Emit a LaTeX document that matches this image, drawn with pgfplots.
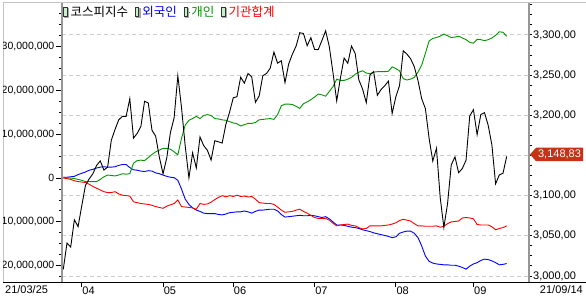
\documentclass[border=0pt]{standalone}
\usepackage{pgfplots}
\usepackage{pgfplotstable}
\pgfplotsset{compat=1.18}
\usepackage{fontspec}
\setmainfont{Liberation Sans}
\newfontfamily\krfont{Noto Sans CJK KR}
\definecolor{cgreen}{RGB}{0,150,0}
\definecolor{cgrid}{RGB}{205,205,205}
\definecolor{cframe}{RGB}{195,195,195}
\definecolor{caxis}{RGB}{150,150,150}
\definecolor{cprice}{RGB}{200,50,20}
\definecolor{cicon}{RGB}{200,240,200}
\pgfplotstableread{
i kospi foreign indiv inst
0 3008.33 0.2 0.2 0.0
1 3041.01 0.2 0.1 -0.1
2 3036.04 0.3 0.0 -0.3
3 3070.00 0.4 -0.1 -0.6
4 3061.42 0.8 -0.3 -0.8
5 3087.40 1.1 -0.5 -0.9
6 3112.80 1.4 -0.8 -1.0
7 3120.83 1.8 -0.8 -1.4
8 3127.20 2.0 -0.8 -1.9
9 3137.53 2.3 -0.8 -2.3
10 3143.26 2.5 -0.3 -2.7
11 3131.88 2.6 0.3 -3.1
12 3135.59 2.5 0.7 -3.3
13 3169.08 2.5 0.6 -3.3
14 3182.38 2.6 0.5 -3.1
15 3194.33 2.9 0.7 -3.6
16 3198.84 3.1 1.0 -3.9
17 3198.62 3.1 0.9 -4.0
18 3220.70 2.4 1.0 -4.1
19 3171.66 1.9 3.4 -5.4
20 3177.52 1.8 4.0 -5.6
21 3186.10 1.6 4.1 -5.8
22 3217.53 1.5 4.0 -5.9
23 3215.42 1.7 4.7 -6.0
24 3181.47 1.6 5.4 -6.2
25 3174.07 1.2 6.0 -6.5
26 3147.86 1.0 6.4 -6.7
27 3127.20 0.7 6.8 -6.9
28 3147.00 0.4 6.8 -6.4
29 3178.74 0.2 6.6 -6.1
30 3197.20 0.1 6.0 -5.8
31 3249.30 -0.5 5.3 -5.0
32 3209.43 -2.5 9.1 -6.5
33 3161.66 -4.8 12.1 -6.6
34 3122.11 -6.0 13.2 -6.7
35 3153.32 -6.8 13.6 -6.8
36 3134.52 -7.3 14.1 -7.1
37 3173.05 -7.6 13.6 -5.8
38 3162.28 -8.0 14.3 -6.0
39 3156.42 -8.1 14.5 -5.9
40 3144.30 -8.1 14.3 -5.5
41 3168.43 -8.1 13.6 -4.9
42 3167.00 -8.3 13.5 -4.4
43 3165.51 -8.4 13.3 -4.0
44 3188.73 -8.2 13.2 -4.3
45 3203.92 -7.9 12.9 -4.0
46 3221.87 -7.8 12.6 -4.2
47 3223.15 -7.7 12.4 -3.9
48 3247.43 -7.7 11.9 -4.2
49 3240.08 -7.5 12.2 -4.1
50 3252.12 -7.7 12.5 -4.3
51 3247.83 -8.0 12.5 -4.2
52 3216.18 -7.6 12.7 -4.8
53 3224.01 -7.3 13.3 -5.6
54 3249.32 -7.3 13.4 -5.7
55 3252.13 -7.2 13.5 -5.8
56 3258.63 -7.1 13.6 -5.8
57 3278.68 -7.1 13.4 -6.0
58 3264.96 -7.5 14.5 -6.6
59 3267.93 -8.3 16.5 -7.3
60 3240.79 -8.9 16.9 -7.8
61 3263.88 -8.8 16.9 -7.7
62 3276.19 -8.7 16.8 -7.6
63 3286.10 -8.6 16.4 -7.3
64 3302.84 -8.5 15.9 -7.1
65 3301.89 -8.6 17.0 -7.6
66 3286.68 -8.6 17.4 -8.0
67 3296.68 -8.5 17.9 -8.5
68 3282.06 -8.6 18.5 -9.0
69 3281.78 -8.8 19.2 -9.2
70 3293.21 -9.0 19.0 -9.2
71 3305.21 -8.8 18.7 -9.2
72 3285.34 -9.3 19.8 -9.6
73 3252.68 -10.0 20.9 -10.3
74 3217.95 -10.7 22.6 -10.9
75 3246.47 -10.7 22.3 -10.7
76 3271.38 -10.8 22.3 -10.6
77 3264.81 -11.0 22.6 -10.5
78 3286.22 -11.2 23.0 -10.8
79 3276.91 -11.3 23.7 -10.9
80 3244.04 -11.5 24.2 -11.3
81 3232.70 -11.8 24.5 -11.6
82 3215.81 -12.0 24.0 -11.5
83 3250.21 -12.2 23.8 -10.9
84 3254.42 -12.5 24.2 -10.9
85 3224.95 -12.7 24.3 -10.9
86 3232.07 -12.9 24.3 -10.9
87 3236.86 -13.1 24.3 -10.8
88 3242.65 -13.3 24.4 -10.7
89 3202.32 -13.6 25.4 -10.5
90 3223.04 -13.4 25.0 -10.2
91 3237.14 -12.6 24.5 -9.7
92 3280.38 -12.3 22.7 -9.4
93 3276.13 -12.1 22.4 -9.6
94 3270.36 -12.1 22.6 -9.8
95 3260.42 -12.6 23.0 -10.4
96 3243.19 -13.6 24.2 -10.9
97 3220.62 -15.5 25.8 -10.9
98 3208.38 -17.8 28.5 -11.0
99 3171.29 -19.0 31.3 -11.0
100 3143.09 -19.4 31.9 -11.0
101 3158.93 -19.6 32.1 -10.9
102 3097.83 -19.7 32.4 -11.2
103 3060.51 -19.8 32.9 -11.0
104 3090.21 -19.8 32.5 -10.4
105 3138.30 -19.9 32.1 -10.0
106 3148.29 -19.9 32.2 -9.9
107 3128.53 -20.1 32.4 -9.8
108 3133.90 -20.4 32.0 -9.1
109 3144.19 -20.8 31.6 -9.0
110 3199.27 -20.1 31.0 -9.1
111 3207.02 -19.6 30.8 -9.3
112 3175.85 -19.3 31.7 -10.6
113 3201.06 -18.8 31.6 -10.7
114 3203.33 -18.5 31.4 -10.7
115 3187.42 -18.6 31.6 -10.7
116 3162.99 -18.9 32.0 -11.1
117 3114.70 -19.3 32.6 -11.8
118 3125.76 -19.8 33.4 -11.5
119 3127.86 -19.7 33.3 -11.3
120 3148.83 -19.5 32.4 -10.9
}\data
\begin{document}
\begin{tikzpicture}[x=1pt,y=1pt]
\useasboundingbox (0pt,0pt) rectangle (586pt,303pt);
\clip (3pt,0pt) rectangle (586pt,303pt);
\pgfplotsset{
  common/.style={
    at={(62pt,21pt)}, anchor=south west,
    scale only axis, width=467pt, height=279pt,
    xmin=-0.35, xmax=126.04,
    font=\fontsize{11}{13}\selectfont,
  }
}
% frame
\draw[cframe, line width=1pt] (0pt,300pt) -- (586pt,300pt);
\draw[cframe, line width=1pt] (3pt,300pt) -- (3pt,21pt);
% grid + x ticks (right scale)
\begin{axis}[common, ymin=2992.53, ymax=3339.83,
  axis x line*=bottom, axis y line*=right, axis line style={draw=none},
  ytick={3000,3050,...,3300}, yticklabels={}, ytick style={draw=none},
  ymajorgrids, grid style={cgrid, dash pattern=on 4pt off 3pt, line width=1pt},
  xtick={5,27,46,68,90,111}, xticklabels={04,05,06,07,08,09},
  tick align=outside, major tick length=5pt,
  xtick style={black, line width=1pt},
  xticklabel style={anchor=north west, inner sep=0pt, xshift=0.5pt},
]
\end{axis}
% left scale: investor flows
\begin{axis}[common, ymin=-23.72, ymax=39.98,
  axis x line*=bottom, axis y line*=left,
  x axis line style={draw=none},
  y axis line style={draw=caxis, line width=2pt},
  xtick=\empty,
  ytick={-20,-10,0,10,20,30},
  yticklabels={{−20,000,000},{−10,000,000},{0},{10,000,000},{20,000,000},{30,000,000}},
  minor ytick={-22.5,-17.5,-15,-12.5,-7.5,-5,-2.5,2.5,5,7.5,12.5,15,17.5,22.5,25,27.5,32.5,35,37.5},
  tick align=outside,
  major tick length=6pt, minor tick length=3pt,
  tick style={black, line width=1pt},
  yticklabel style={anchor=east, inner sep=0pt, xshift=-1.5pt, font=\fontsize{10.5}{12}\selectfont},
  legend style={at={(0,1)}, anchor=north west, draw=none, fill=none,
    inner sep=0pt, outer sep=0pt, xshift=1pt, yshift=-2pt,
    font=\krfont\fontsize{12.5}{12.5}\selectfont,
    /tikz/every even column/.append style={column sep=5.5pt},
    nodes={inner sep=1pt}},
  legend columns=-1,
  legend image code/.code={
    \path (0pt,0pt) -- (6pt,0pt);
    \fill[gray!70] (1.2pt,-5.2pt) rectangle (5pt,3.6pt);
    \draw[black!80, line width=0.7pt, fill=cicon] (0pt,-4.3pt) rectangle (3.6pt,4.3pt);
  },
]
\addlegendimage{}
\addlegendentry{코스피지수}
\addplot[blue, line width=0.9pt] table[x=i, y=foreign] {\data};
\addlegendentry{\textcolor{blue}{외국인}}
\addplot[cgreen, line width=0.9pt] table[x=i, y=indiv] {\data};
\addlegendentry{\textcolor{cgreen}{개인}}
\addplot[red, line width=0.9pt] table[x=i, y=inst] {\data};
\addlegendentry{\textcolor{red}{기관합계}}
\end{axis}
% right scale: KOSPI
\begin{axis}[common, ymin=2992.53, ymax=3339.83,
  axis x line*=bottom, axis y line*=right,
  x axis line style={draw=none}, xtick=\empty,
  y axis line style={draw=caxis, line width=2pt},
  ytick={3000,3050,...,3300},
  yticklabels={{3,000,00},{3,050,00},{3,100,00},{},{3,200,00},{3,250,00},{3,300,00}},
  minor ytick={3012.5,3025,3037.5,3062.5,3075,3087.5,3112.5,3125,3137.5,3162.5,3175,3187.5,3212.5,3225,3237.5,3262.5,3275,3287.5,3312.5,3325,3337.5},
  tick align=outside, major tick length=3pt, minor tick length=3pt,
  tick style={black, line width=1pt},
  yticklabel style={anchor=west, inner sep=0pt, xshift=1pt},
]
\addplot[black, line width=0.9pt] table[x=i, y=kospi] {\data};
\coordinate (price) at (axis cs:126.04,3148.83);
\end{axis}
% bottom line
\draw[black, line width=1pt] (0pt,21pt) -- (586pt,21pt);
% end date labels
\node[anchor=north west, inner sep=0pt, font=\fontsize{11}{13}\selectfont] at (5pt,17.5pt) {21/03/25};
\node[anchor=north east, inner sep=0pt, font=\fontsize{11}{13}\selectfont] at (583pt,17.5pt) {21/09/14};
% last price tag
\fill[cprice] ([xshift=1pt,yshift=2pt]price) -- ++(6pt,6.7pt) -- ++(47pt,0pt) -- ++(0pt,-13.4pt) -- ++(-47pt,0pt) -- cycle;
\node[white, inner sep=0pt, font=\fontsize{11}{13}\selectfont] at ([xshift=30.5pt,yshift=2pt]price) {3,148,83};
\end{tikzpicture}
\end{document}
